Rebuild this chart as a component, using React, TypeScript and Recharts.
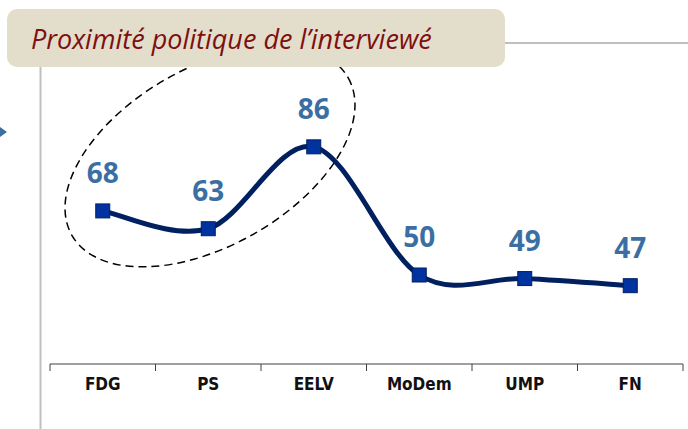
import { LineChart, Line, XAxis, YAxis, LabelList } from 'recharts';

const parties = ['FDG', 'PS', 'EELV', 'MoDem', 'UMP', 'FN'];
const scores = [68, 63, 86, 50, 49, 47];
const yDomain = [25, 100];

const data = parties.map((name, i) => ({ name, value: scores[i] }));

const W = 688;
const H = 429;
const margin = { top: 97, right: 5, bottom: 0, left: 50 };
const AXIS_H = 65;
const AXIS_Y = H - margin.bottom - AXIS_H;
const BAND = (W - margin.left - margin.right) / parties.length;

// Excel-like smoothing: cubic bezier with neighbour tangents / 6
function excelCurve(context: any) {
  let pts: number[][] = [];
  return {
    areaStart() {},
    areaEnd() {},
    lineStart() {
      pts = [];
    },
    point(x: number, y: number) {
      pts.push([+x, +y]);
    },
    lineEnd() {
      if (!pts.length) return;
      context.moveTo(pts[0][0], pts[0][1]);
      for (let i = 0; i < pts.length - 1; i++) {
        const p0 = pts[i - 1] || pts[i];
        const p1 = pts[i];
        const p2 = pts[i + 1];
        const p3 = pts[i + 2] || p2;
        context.bezierCurveTo(
          p1[0] + (p2[0] - p0[0]) / 6,
          p1[1] + (p2[1] - p0[1]) / 6,
          p2[0] - (p3[0] - p1[0]) / 6,
          p2[1] - (p3[1] - p1[1]) / 6,
          p2[0],
          p2[1]
        );
      }
    },
  };
}

const SquareDot = (props: any) => {
  const { cx, cy } = props;
  if (cx == null || cy == null) return null;
  return <rect x={cx - 7} y={cy - 7} width={14} height={14} fill="#0033A0" stroke="#001F5F" strokeWidth={1} />;
};

const PartyTick = (props: any) => {
  const { payload, index } = props;
  const x = payload.coordinate;
  return (
    <g>
      {index === 0 && <line x1={x - BAND / 2} x2={x - BAND / 2} y1={AXIS_Y} y2={AXIS_Y + 7} stroke="#404040" />}
      <line x1={x + BAND / 2} x2={x + BAND / 2} y1={AXIS_Y} y2={AXIS_Y + 7} stroke="#404040" />
      <text
        x={x}
        y={AXIS_Y + 26}
        textAnchor="middle"
        fontFamily="'DejaVu Sans Condensed', 'DejaVu Sans', sans-serif"
        fontWeight="bold"
        fontSize={17}
        fill="#111"
      >
        {payload.value}
      </text>
    </g>
  );
};

export default function App() {
  return (
    <div style={{ position: 'absolute', left: 0, top: 0, width: W, height: H, background: '#fff', overflow: 'hidden' }}>
      <svg width={W} height={H} style={{ position: 'absolute', left: 0, top: 0 }}>
        <line x1={40.5} x2={40.5} y1={60} y2={H} stroke="#BFBFBF" strokeWidth={2} />
        <line x1={500} x2={W} y1={43} y2={43} stroke="#BFBFBF" strokeWidth={2} />
        <polygon points="0,127 7,132 0,137" fill="#3C6FA0" />
        <ellipse
          cx={210}
          cy={156.5}
          rx={159}
          ry={89}
          transform="rotate(-29.7 210 156.5)"
          fill="none"
          stroke="#000"
          strokeWidth={1.5}
          strokeDasharray="8 5"
        />
      </svg>
      <div style={{ position: 'absolute', left: 0, top: 0 }}>
        <LineChart width={W} height={H} data={data} margin={margin}>
          <XAxis
            dataKey="name"
            height={AXIS_H}
            padding={{ left: BAND / 2, right: BAND / 2 }}
            axisLine={{ stroke: '#404040', strokeWidth: 1 }}
            tickLine={false}
            tick={<PartyTick />}
            interval={0}
          />
          <YAxis hide domain={yDomain} />
          <Line
            type={excelCurve as any}
            dataKey="value"
            stroke="#002060"
            strokeWidth={5}
            dot={<SquareDot />}
            activeDot={false}
            isAnimationActive={false}
          >
            <LabelList
              dataKey="value"
              position="top"
              offset={28}
              fill="#3B6FA3"
              fontSize={28}
              fontWeight="bold"
              fontFamily="'Open Sans', sans-serif"
            />
          </Line>
        </LineChart>
      </div>
      <div
        style={{
          position: 'absolute',
          left: 7,
          top: 9,
          width: 498,
          height: 58,
          borderRadius: 10,
          background: '#E3DDCC',
          boxSizing: 'border-box',
          paddingLeft: 24,
          display: 'flex',
          alignItems: 'center',
          fontFamily: "'Open Sans', sans-serif",
          fontStyle: 'italic',
          fontSize: 27,
          color: '#7F0F0F',
        }}
      >
        Proximité politique de l’interviewé
      </div>
    </div>
  );
}
